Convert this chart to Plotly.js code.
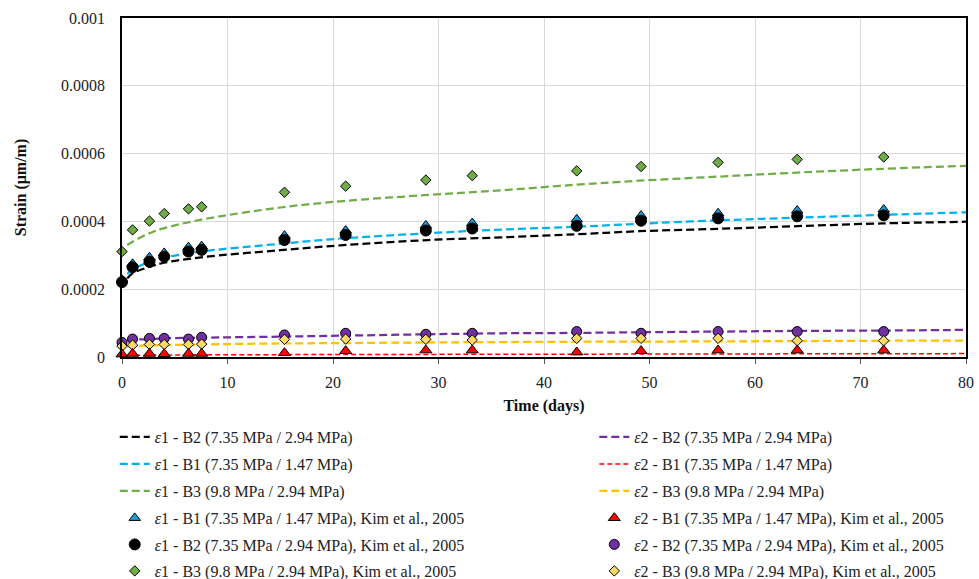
<!DOCTYPE html>
<html>
<head>
<meta charset="utf-8">
<script src="https://cdn.plot.ly/plotly-3.0.1.min.js"></script>
<style>html,body{margin:0;padding:0;background:#fff;}#chart{width:979px;height:579px;}</style>
</head>
<body>
<div id="chart"></div>
<script>
// Fitted (model) curves
const lineTime = [0.5, 1, 2.6, 4, 7.5, 15, 21, 29, 36, 43, 49, 56.5, 64, 72, 80];
const e1B2Line = [0.000232, 0.000247, 0.000266, 0.000278, 0.000294, 0.000315, 0.00033, 0.000345, 0.000353, 0.000362, 0.000371, 0.000378, 0.000386, 0.000394, 0.000399];
const e1B1Line = [0.000245, 0.000258, 0.000281, 0.000293, 0.000311, 0.000334, 0.00035, 0.000365, 0.000376, 0.000384, 0.000393, 0.000403, 0.000411, 0.000419, 0.000427];
const e1B3Line = [0.00033, 0.00034, 0.000365, 0.00038, 0.000405, 0.000441, 0.00046, 0.000478, 0.000492, 0.000508, 0.00052, 0.000532, 0.000544, 0.000555, 0.000564];
const e2B2Line = [0.00005, 0.000051, 0.000053, 0.000055, 0.000057, 0.00006, 0.000063, 0.000067, 0.00007, 0.000071, 0.000073, 0.000075, 0.000077, 0.000078, 0.00008];
const e2B1Line = [0.000005, 0.000005, 0.0000055, 0.000006, 0.0000065, 0.000007, 0.0000072, 0.0000077, 0.000008, 0.0000083, 0.0000087, 0.000009, 0.0000093, 0.0000097, 0.00001];
const e2B3Line = [0.00003, 0.000032, 0.000034, 0.000035, 0.000037, 0.00004, 0.000041, 0.000043, 0.000044, 0.000045, 0.0000455, 0.000046, 0.000047, 0.000048, 0.000048];

// Kim et al., 2005 measurements
const kimTime = [0, 1, 2.6, 4, 6.3, 7.55, 15.4, 21.2, 28.8, 33.2, 43.1, 49.2, 56.5, 64, 72.2];
const e1B1Kim = [0.000228, 0.000275, 0.000294, 0.000307, 0.000324, 0.000327, 0.000358, 0.000373, 0.000388, 0.000395, 0.000406, 0.000417, 0.000424, 0.000432, 0.000435];
const e1B2Kim = [0.000221, 0.000265, 0.000281, 0.000296, 0.000311, 0.000316, 0.000345, 0.00036, 0.000373, 0.000379, 0.000387, 0.000402, 0.000409, 0.000415, 0.000418];
const e1B3Kim = [0.000311, 0.000375, 0.000401, 0.000423, 0.000437, 0.000443, 0.000486, 0.000504, 0.000522, 0.000535, 0.000549, 0.000562, 0.000574, 0.000583, 0.00059];
const e2B1Kim = [0.000008, 0.00001, 0.00001, 0.000009, 0.00001, 0.00001, 0.000012, 0.000018, 0.00002, 0.00002, 0.000014, 0.000018, 0.00002, 0.00002, 0.00002];
const e2B2Kim = [0.000043, 0.000053, 0.000055, 0.000055, 0.000053, 0.000058, 0.000065, 0.00007, 0.000067, 0.00007, 0.000075, 0.00007, 0.000075, 0.000075, 0.000075];
const e2B3Kim = [0.000032, 0.000035, 0.000037, 0.000037, 0.000037, 0.000038, 0.000052, 0.000053, 0.000052, 0.00005, 0.000055, 0.000055, 0.000055, 0.000048, 0.000048];

const xTicks = [0, 10, 20, 30, 40, 50, 60, 70, 80];
const yTicks = [0, 0.0002, 0.0004, 0.0006, 0.0008, 0.001];
const yTickText = ['0', '0.0002', '0.0004', '0.0006', '0.0008', '0.001'];

const names = {
  l1b2: '<i>ε</i>1 - B2 (7.35 MPa / 2.94 MPa)',
  l1b1: '<i>ε</i>1 - B1 (7.35 MPa / 1.47 MPa)',
  l1b3: '<i>ε</i>1 - B3 (9.8 MPa / 2.94 MPa)',
  k1b1: '<i>ε</i>1 - B1 (7.35 MPa / 1.47 MPa), Kim et al., 2005',
  k1b2: '<i>ε</i>1 - B2 (7.35 MPa / 2.94 MPa), Kim et al., 2005',
  k1b3: '<i>ε</i>1 - B3 (9.8 MPa / 2.94 MPa), Kim et al., 2005',
  l2b2: '<i>ε</i>2 - B2 (7.35 MPa / 2.94 MPa)',
  l2b1: '<i>ε</i>2 - B1 (7.35 MPa / 1.47 MPa)',
  l2b3: '<i>ε</i>2 - B3 (9.8 MPa / 2.94 MPa)',
  k2b1: '<i>ε</i>2 - B1 (7.35 MPa / 1.47 MPa), Kim et al., 2005',
  k2b2: '<i>ε</i>2 - B2 (7.35 MPa / 2.94 MPa), Kim et al., 2005',
  k2b3: '<i>ε</i>2 - B3 (9.8 MPa / 2.94 MPa), Kim et al., 2005'
};

// legend slot: column (0 left, 1 right) and row (0..5)
function legendId(col, row) {
  const n = col * 6 + row + 1;
  return n === 1 ? 'legend' : 'legend' + n;
}
function lineTrace(y, name, color, width, dash, col, row) {
  return {x: lineTime, y: y, name: name, type: 'scatter', mode: 'lines',
    line: {color: color, width: width, dash: dash, shape: 'spline'},
    legend: legendId(col, row)};
}
function markTrace(y, name, symbol, size, fill, col, row) {
  return {x: kimTime, y: y, name: name, type: 'scatter', mode: 'markers', cliponaxis: false,
    marker: {symbol: symbol, size: size, color: fill, line: {color: '#000000', width: 1}},
    legend: legendId(col, row)};
}

const data = [
  lineTrace(e1B2Line, names.l1b2, '#000000', 2.25, '8px,4px', 0, 0),
  lineTrace(e1B1Line, names.l1b1, '#00B0F0', 2.25, '8px,4px', 0, 1),
  lineTrace(e1B3Line, names.l1b3, '#70AD47', 2.25, '8px,4px', 0, 2),
  lineTrace(e2B2Line, names.l2b2, '#7030A0', 2.25, '8px,4px', 1, 0),
  lineTrace(e2B1Line, names.l2b1, '#FF0000', 1.5, '5px,3px', 1, 1),
  lineTrace(e2B3Line, names.l2b3, '#FFC000', 2.25, '8px,4px', 1, 2),
  markTrace(e1B1Kim, names.k1b1, 'triangle-up', 10, '#1C9CDC', 0, 3),
  markTrace(e1B2Kim, names.k1b2, 'circle', 11, '#000000', 0, 4),
  markTrace(e1B3Kim, names.k1b3, 'diamond', 8, '#70AD47', 0, 5),
  markTrace(e2B2Kim, names.k2b2, 'circle', 10, '#7030A0', 1, 4),
  markTrace(e2B3Kim, names.k2b3, 'diamond', 8, '#FFD966', 1, 5),
  markTrace(e2B1Kim, names.k2b1, 'triangle-up', 10.5, '#FF0000', 1, 3)
];

const serif = 'Liberation Serif, Times New Roman, serif';

const layout = {
  width: 979, height: 579,
  margin: {l: 122, r: 13, t: 18, b: 222, autoexpand: false},
  paper_bgcolor: '#ffffff', plot_bgcolor: '#ffffff',
  font: {family: serif, size: 16, color: '#222222'},
  showlegend: true,
  xaxis: {
    range: [0, 80], tickvals: xTicks, ticktext: xTicks.map(String),
    showgrid: true, gridcolor: '#d9d9d9', gridwidth: 1,
    zeroline: false, showline: true, linecolor: '#000000', linewidth: 1.5, mirror: true,
    ticks: 'outside', ticklen: 5, tickcolor: '#555555', ticklabelstandoff: 5,
    tickfont: {family: serif, size: 16, color: '#222222'},
    title: {text: '<b>Time (days)</b>', font: {family: serif, size: 16, color: '#111111'}, standoff: 10}
  },
  yaxis: {
    range: [0, 0.001], tickvals: yTicks, ticktext: yTickText,
    showgrid: true, gridcolor: '#d9d9d9', gridwidth: 1,
    zeroline: false, showline: true, linecolor: '#000000', linewidth: 1.5, mirror: true,
    ticks: '', ticklen: 0, ticklabelstandoff: 12,
    tickfont: {family: serif, size: 16, color: '#222222'},
    title: {text: '<b>Strain (μm/m)</b>', font: {family: serif, size: 16, color: '#111111'}, standoff: 30}
  }
};

// place the 12 one-item legends on a 2-column grid below the plot
const rowCenters = [437, 464, 491, 518, 544.5, 571];
const colX = [-0.0086, 0.5596];
for (let col = 0; col < 2; col++) {
  for (let row = 0; row < 6; row++) {
    layout[legendId(col, row)] = {
      orientation: 'v', xanchor: 'left', yanchor: 'middle', yref: 'container',
      x: colX[col], y: 1 - rowCenters[row] / 579,
      font: {family: serif, size: 16, color: '#222222'},
      bgcolor: 'rgba(0,0,0,0)', itemwidth: 30
    };
  }
}

Plotly.newPlot('chart', data, layout, {displayModeBar: false, responsive: false});
</script>
</body>
</html>
